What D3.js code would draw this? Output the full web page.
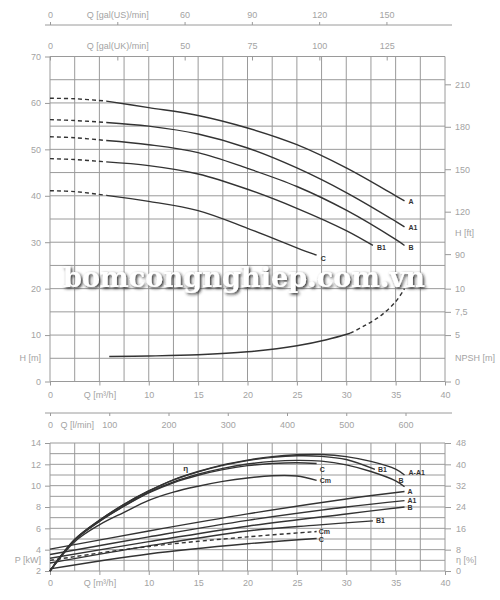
<!DOCTYPE html>
<html>
<head>
<meta charset="utf-8">
<script src="https://cdn.jsdelivr.net/npm/d3@7"></script>
<style>
  body { margin: 0; background: #fff; }
</style>
</head>
<body>
<div id="chart"></div>
<script>
// ---- values ----
var qTicks = [0, 10, 15, 20, 25, 30, 35, 40]      // m3/h (the 5 slot carries the axis name)
var hTicks = [0, 10, 20, 30, 40, 50, 60, 70]
var ftTicks = [90, 120, 150, 180, 210]
var npshTicks = [0, 5, 7.5, 10]
var usTicks = [0, 60, 90, 120, 150]
var ukTicks = [0, 50, 75, 100, 125]
var lminTicks = [0, 100, 200, 300, 400, 500, 600]
var pTicks = [2, 4, 6, 8, 10, 12, 14]
var etaTicks = [0, 8, 16, 24, 32, 40, 48]

// head curves [Q m3/h, H m]
var headA  = [[0,61],[2.5,60.9],[5.7,60.4],[10,59],[15,57.3],[20,54.6],[25,51],[30,46],[35,40],[35.9,38.9]]
var headA1 = [[0,56.4],[2.5,56.2],[5.7,55.8],[10,55],[15,53.3],[20,50.3],[25,46],[30,40.7],[35,34.5],[35.9,33.3]]
var headB  = [[0,52.7],[2.5,52.5],[5.7,51.9],[10,51],[15,49.3],[20,45.9],[25,42],[30,36.9],[35,30.6],[35.9,29.3]]
var headB1 = [[0,48],[2.5,47.8],[5.7,47.3],[10,46.5],[15,44.7],[20,41.4],[25,37.3],[30,32.5],[32.7,29.3]]
var headC  = [[0,41.1],[2.5,40.9],[5.7,40.1],[10,38.8],[15,36.8],[20,33],[25,28.8],[27,27.2]]
var npsh   = [[6,2.7],[10,2.75],[15,2.88],[20,3.2],[25,3.85],[28,4.5],[30.4,5.2],[32,6.1],[33.5,7.1],[35,8.6],[35.9,10]]
var npshDashFrom = 30.4
var headDashTo = 5.7

// power curves [Q m3/h, P kW]
var powA  = [[0,4.05],[10,5.75],[20,7.35],[30,8.75],[35.9,9.45]]
var powA1 = [[0,3.55],[10,5.2],[20,6.75],[30,8.0],[35.9,8.6]]
var powB  = [[0,3.2],[10,4.75],[20,6.2],[30,7.35],[35.9,8.0]]
var powB1 = [[0,2.75],[10,4.35],[20,5.75],[27,6.3],[32.7,6.7]]
var powCm = [[0,3.0],[10,4.3],[20,5.2],[27,5.7]]
var powC  = [[0,2.2],[10,3.6],[20,4.55],[27,5.05]]

// efficiency curves [Q m3/h, eta %]
var effAA1 = [[0,0],[2.5,11.8],[5,19],[7.5,25],[10,30],[12.5,34.2],[15,37.3],[17.5,39.8],[20,41.6],[22.5,42.9],[25,43.6],[27.5,43.7],[30,42.9],[32.5,41.1],[35,38.2],[35.9,36]]
var effB1  = [[0,0],[2.5,11.8],[5,19],[7.5,25],[10,30],[12.5,34.2],[15,37.2],[17.5,39.6],[20,41.4],[22.5,42.6],[25,43.2],[27.5,43],[30,41.8],[32.9,38.1]]
var effB   = [[0,0],[2.5,11.6],[5,18.6],[7.5,24.4],[10,29.5],[12.5,33.4],[15,36.3],[17.5,38.5],[20,40.1],[22.5,41.1],[25,41.5],[27.5,41.2],[30,39.8],[32.5,37.3],[35,33.8],[35.9,31.6]]
var effC   = [[0,0],[2.5,11.6],[5,18.6],[7.5,24.3],[10,29.3],[12.5,33.1],[15,35.9],[17.5,38],[20,39.5],[22.5,40.3],[25,40.6],[27,40.3]]
var effCm  = [[0,0],[2.5,11],[5,17.3],[7.5,22],[10,26.5],[12.5,29.6],[15,31.8],[17.5,33.6],[20,34.9],[22.5,35.7],[25,35.6],[27,34]]

// ---- setup ----
var width = 500, height = 600
var gridColor = "#9a9a9a", textColor = "#a3a3a3", curveColor = "#333"
var font = "'Liberation Sans', Arial, sans-serif"

let svg = d3.select("#chart").append("svg")
  .attr("width", width).attr("height", height)

var x = d3.scaleLinear().domain([0, 40]).range([50, 445])
var xUS = d3.scaleLinear().domain([0, 40 * 4.40287]).range(x.range())
var xUK = d3.scaleLinear().domain([0, 40 * 3.66615]).range(x.range())
var xL = d3.scaleLinear().domain([0, 40 * 1000 / 60]).range(x.range())

var yH = d3.scaleLinear().domain([0, 70]).range([381.5, 56.5])
var yFt = d3.scaleLinear().domain([0, 70 * 3.28084]).range(yH.range())
var yN = d3.scaleLinear().domain([0, 35]).range(yH.range())   // NPSH uses half the head scale

var yP = d3.scaleLinear().domain([2, 14]).range([571, 443])
var yE = d3.scaleLinear().domain([0, 48]).range(yP.range())

function grid(yScale, yVals) {
  let g = svg.append("g").attr("stroke", gridColor).attr("stroke-width", 1)
  g.selectAll("line.v").data(d3.range(0, 40.01, 2.5)).enter().append("line")
    .attr("x1", d => x(d)).attr("x2", d => x(d))
    .attr("y1", yScale.range()[0]).attr("y2", yScale.range()[1])
  g.selectAll("line.h").data(yVals).enter().append("line")
    .attr("x1", x(0)).attr("x2", x(40))
    .attr("y1", d => yScale(d)).attr("y2", d => yScale(d))
}
grid(yH, d3.range(0, 70.1, 5))
grid(yP, d3.range(2, 14.01, 1))

function styleAxis(g) {
  g.select(".domain").remove()
  g.attr("font-family", font).attr("font-size", 9)
  g.selectAll("line").attr("stroke", gridColor)
  g.selectAll("text").attr("fill", textColor)
}
function note(txt, px, py, anchor) {
  svg.append("text").attr("x", px).attr("y", py).attr("dy", "0.32em")
    .attr("text-anchor", anchor).attr("font-family", font).attr("font-size", 9)
    .attr("fill", textColor).text(txt)
}
function hline(y0, x0, x1) {
  svg.append("line").attr("x1", x0).attr("x2", x1).attr("y1", y0).attr("y2", y0)
    .attr("stroke", gridColor)
}
var comma = d => String(d).replace(".", ",")

// ---- top chart axes ----
svg.append("g").attr("transform", "translate(" + x(0) + ",0)")
  .call(d3.axisLeft(yH).tickValues(hTicks).tickSize(5).tickPadding(4)).call(styleAxis)
note("H [m]", 41, yH(5), "end")

svg.append("g").attr("transform", "translate(" + x(40) + ",0)")
  .call(d3.axisRight(yFt).tickValues(ftTicks).tickSize(6).tickPadding(4)).call(styleAxis)
note("H [ft]", 455, yFt(105), "start")
svg.append("g").attr("transform", "translate(" + x(40) + ",0)")
  .call(d3.axisRight(yN).tickValues(npshTicks).tickSize(6).tickPadding(4).tickFormat(comma)).call(styleAxis)
note("NPSH [m]", 455, yN(2.5), "start")

svg.append("g").attr("transform", "translate(0," + yH(0) + ")")
  .call(d3.axisBottom(x).tickValues(qTicks).tickSize(4).tickPadding(6)).call(styleAxis)
svg.append("g").attr("transform", "translate(0," + yH(0) + ")")
  .call(d3.axisBottom(x).tickValues([5]).tickSize(4).tickPadding(6).tickFormat(() => "Q [m³/h]")).call(styleAxis)

hline(25, 45, 452)
svg.append("g").attr("transform", "translate(0,25)")
  .call(d3.axisTop(xUS).tickValues(usTicks.concat([30])).tickSize(3).tickPadding(4)
    .tickFormat(d => d == 30 ? "Q [gal(US)/min]" : d)).call(styleAxis)
svg.append("g").attr("transform", "translate(0," + yH(70) + ")")
  .call(d3.axisTop(xUK).tickValues(ukTicks.concat([25])).tickSize(-4).tickPadding(8)
    .tickFormat(d => d == 25 ? "Q [gal(UK)/min]" : d)).call(styleAxis)

// ---- bottom chart axes ----
hline(413, 45, 452)
svg.append("g").attr("transform", "translate(0,413)")
  .call(d3.axisBottom(xL).tickValues(lminTicks).tickSize(3).tickPadding(6)).call(styleAxis)
note("Q [l/min]", xL(46), 425, "middle")

svg.append("g").attr("transform", "translate(" + x(0) + ",0)")
  .call(d3.axisLeft(yP).tickValues(pTicks).tickSize(5).tickPadding(4)).call(styleAxis)
note("P [kW]", 41, yP(3), "end")
svg.append("g").attr("transform", "translate(" + x(40) + ",0)")
  .call(d3.axisRight(yE).tickValues(etaTicks).tickSize(6).tickPadding(5)).call(styleAxis)
note("η [%]", 456, yE(4), "start")
svg.append("g").attr("transform", "translate(0," + yP(2) + ")")
  .call(d3.axisBottom(x).tickValues(qTicks).tickSize(4).tickPadding(5)).call(styleAxis)
svg.append("g").attr("transform", "translate(0," + yP(2) + ")")
  .call(d3.axisBottom(x).tickValues([5]).tickSize(4).tickPadding(5).tickFormat(() => "Q [m³/h]")).call(styleAxis)

// ---- curves ----
function curve(pts, yScale, dashed) {
  let line = d3.line().x(d => x(d[0])).y(d => yScale(d[1])).curve(d3.curveCatmullRom.alpha(0.5))
  svg.append("path").datum(pts).attr("d", line)
    .attr("fill", "none").attr("stroke", curveColor).attr("stroke-width", 1.4)
    .attr("stroke-dasharray", dashed ? "4,3" : null)
}
function tag(txt, pts, yScale, dx, dy) {
  let e = pts[pts.length - 1]
  svg.append("text").attr("x", x(e[0]) + dx).attr("y", yScale(e[1]) + dy).attr("dy", "0.35em")
    .attr("font-family", font).attr("font-size", 7).attr("font-weight", "bold")
    .attr("fill", curveColor).text(txt)
}

var heads = [[headA, "A", 4, 1], [headA1, "A1", 4, 1], [headB, "B", 4, 2], [headB1, "B1", 4, 2], [headC, "C", 4, 3]]
heads.forEach(function(h) {
  curve(h[0].filter(d => d[0] <= headDashTo), yH, true)
  curve(h[0].filter(d => d[0] >= headDashTo), yH, false)
  tag(h[1], h[0], yH, h[2], h[3])
})
curve(npsh.filter(d => d[0] <= npshDashFrom), yN, false)
curve(npsh.filter(d => d[0] >= npshDashFrom), yN, true)

curve(powA, yP); tag("A", powA, yP, 3, 0)
curve(powA1, yP); tag("A1", powA1, yP, 3, 0)
curve(powB, yP); tag("B", powB, yP, 3, 1)
curve(powB1, yP); tag("B1", powB1, yP, 3, 0)
curve(powCm, yP, true); tag("Cm", powCm, yP, 2, 0)
curve(powC, yP); tag("C", powC, yP, 2, 1)

curve(effAA1, yE); tag("A-A1", effAA1, yE, 4, -2)
curve(effB1, yE); tag("B1", effB1, yE, 3, 0)
curve(effB, yE); tag("B", effB, yE, -6, -6)
curve(effC, yE); tag("C", effC, yE, 3, 6)
curve(effCm, yE); tag("Cm", effCm, yE, 3, 0)
svg.append("text").attr("x", x(13.5)).attr("y", yE(37.5)).attr("font-family", font)
  .attr("font-size", 8).attr("font-weight", "bold").attr("fill", curveColor).text("η")

// ---- watermark ----
svg.append("defs").append("filter").attr("id", "wm")
  .attr("x", "-10%").attr("y", "-40%").attr("width", "120%").attr("height", "180%")
  .append("feDropShadow").attr("dx", 1.5).attr("dy", 1.5).attr("stdDeviation", 1.8)
  .attr("flood-color", "#1a1a1a").attr("flood-opacity", 0.95)
svg.append("text").attr("x", 63).attr("y", 287)
  .attr("font-family", "'DejaVu Serif', serif").attr("font-weight", "bold").attr("font-size", 27)
  .attr("textLength", 362).attr("lengthAdjust", "spacingAndGlyphs")
  .attr("fill", "#fff").attr("filter", "url(#wm)")
  .text("bomcongnghiep.com.vn")
</script>
</body>
</html>
